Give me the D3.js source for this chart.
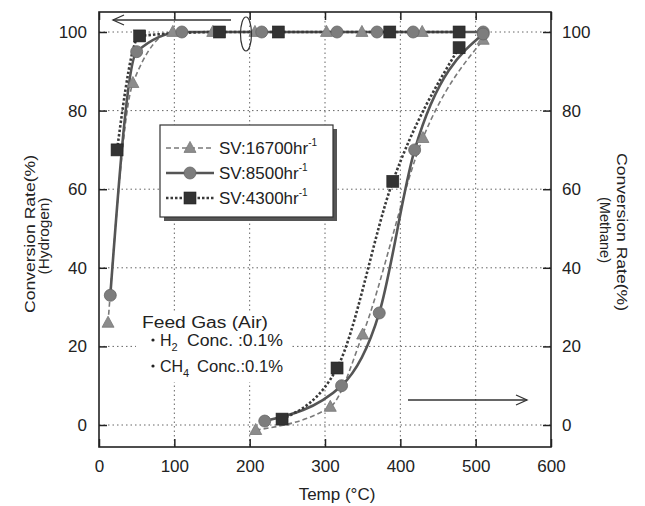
<!DOCTYPE html>
<html><head><meta charset="utf-8">
<script src="https://cdn.jsdelivr.net/npm/d3@7"></script>
<style>
html,body{margin:0;padding:0;background:#fff;}
svg{display:block;font-family:"Liberation Sans","Arial",sans-serif;}
</style></head>
<body>
<svg id="c" width="645" height="506"></svg>
<script>
// ---------- data ----------
const xTicks = [0,100,200,300,400,500,600];
const yTicks = [0,20,40,60,80,100];
const seriesNames = ["SV:16700hr", "SV:8500hr", "SV:4300hr"];
// Hydrogen (left axis)
const h2_16700_T = [12,45,98,151,207,302,349,429];
const h2_16700_V = [26,87,100,100,100,100,100,100];
const h2_8500_T  = [15,50,110,216,316,369,417,510];
const h2_8500_V  = [33,95,100,100,100,100,100,100];
const h2_4300_T  = [24,54,160,238,386,478];
const h2_4300_V  = [70,99,100,100,100,100];
// Methane (right axis)
const ch4_16700_T = [208,307,350,430,510];
const ch4_16700_V = [-1.3,4.6,23,73,98];
const ch4_8500_T  = [220,322,372,419,510];
const ch4_8500_V  = [1,10,28.5,70,99.5];
const ch4_4300_T  = [243,316,390,478];
const ch4_4300_V  = [1.5,14.5,62,96];

// ---------- layout ----------
const svg = d3.select("#c");
const L=99, R=551, T=12, B=447;
const x = d3.scaleLinear().domain([0,600]).range([L,R]);
const y = d3.scaleLinear().domain([0,100]).range([425,32]);

const styles = [
  {line:"#7a7a7a", w:1.6, dash:"5,3", marker:"tri", fill:"#8c8c8c"},
  {line:"#555",    w:2.6, dash:null,  marker:"circ", fill:"#7d7d7d"},
  {line:"#3a3a3a", w:2.6, dash:"2.5,2", marker:"sq", fill:"#333"}
];

// grid
const grid = svg.append("g").attr("stroke","#666").attr("stroke-width",1).attr("stroke-dasharray","1.5,3");
[100,200,300,400,500].forEach(v=>grid.append("line").attr("x1",x(v)).attr("x2",x(v)).attr("y1",T).attr("y2",B));
yTicks.forEach(v=>grid.append("line").attr("x1",L).attr("x2",R).attr("y1",y(v)).attr("y2",y(v)));

// axes
const fs = "17px";
const gB = svg.append("g").attr("transform",`translate(0,${B})`)
  .call(d3.axisBottom(x).tickValues(xTicks).tickSizeInner(-8).tickSizeOuter(0).tickPadding(13));
const gT = svg.append("g").attr("transform",`translate(0,${T})`)
  .call(d3.axisTop(x).tickValues(xTicks).tickSizeInner(-8).tickSizeOuter(0).tickFormat(""));
const gL = svg.append("g").attr("transform",`translate(${L},0)`)
  .call(d3.axisLeft(y).tickValues(yTicks).tickSizeInner(-8).tickSizeOuter(0).tickPadding(12));
const gR = svg.append("g").attr("transform",`translate(${R},0)`)
  .call(d3.axisRight(y).tickValues(yTicks).tickSizeInner(-8).tickSizeOuter(0).tickPadding(11));
[gB,gT,gL,gR].forEach(g=>{
  g.select(".domain").remove();
  g.selectAll("line").attr("stroke","#222").attr("stroke-width",1.5);
  g.selectAll("text").attr("font-size",fs).attr("fill","#222").attr("font-family",null);
});

// frame
svg.append("rect").attr("x",L).attr("y",T).attr("width",R-L).attr("height",B-T)
  .attr("fill","none").attr("stroke","#222").attr("stroke-width",1.6);

// lines
function drawSeries(T_, V_, s){
  const pts = T_.map((t,i)=>[t,V_[i]]);
  const ln = d3.line().x(d=>x(d[0])).y(d=>y(d[1])).curve(d3.curveMonotoneX);
  const p = svg.append("path").attr("d",ln(pts)).attr("fill","none")
    .attr("stroke",s.line).attr("stroke-width",s.w);
  if(s.dash) p.attr("stroke-dasharray",s.dash);
}
function drawMarker(g, cx, cy, s){
  if(s.marker==="tri"){
    const h=11, w=12;
    g.append("path").attr("d",`M${cx},${cy-h*0.6}L${cx+w/2},${cy+h*0.4}L${cx-w/2},${cy+h*0.4}Z`)
      .attr("fill",s.fill).attr("stroke","#777").attr("stroke-width",0.8);
  } else if(s.marker==="circ"){
    g.append("circle").attr("cx",cx).attr("cy",cy).attr("r",6)
      .attr("fill",s.fill).attr("stroke","#666").attr("stroke-width",0.8);
  } else {
    g.append("rect").attr("x",cx-6).attr("y",cy-6).attr("width",12).attr("height",12)
      .attr("fill",s.fill).attr("stroke","#222").attr("stroke-width",0.6);
  }
}
function drawMarkers(T_, V_, s){
  const g = svg.append("g");
  T_.forEach((t,i)=>drawMarker(g, x(t), y(V_[i]), s));
}
const all = [
  [h2_16700_T,h2_16700_V,0],[h2_8500_T,h2_8500_V,1],[h2_4300_T,h2_4300_V,2],
  [ch4_16700_T,ch4_16700_V,0],[ch4_8500_T,ch4_8500_V,1],[ch4_4300_T,ch4_4300_V,2]
];
all.forEach(a=>drawSeries(a[0],a[1],styles[a[2]]));
all.forEach(a=>drawMarkers(a[0],a[1],styles[a[2]]));

// legend
const lg = svg.append("g");
lg.append("rect").attr("x",164).attr("y",129).attr("width",173).attr("height",92).attr("fill","#555");
lg.append("rect").attr("x",160).attr("y",125).attr("width",173).attr("height",92)
  .attr("fill","#fff").attr("stroke","#333").attr("stroke-width",1.2);
const legY = [148,173,198];
seriesNames.forEach((n,i)=>{
  const s = styles[i];
  const l = lg.append("line").attr("x1",166).attr("x2",214).attr("y1",legY[i]).attr("y2",legY[i])
    .attr("stroke",s.line).attr("stroke-width",s.w);
  if(s.dash) l.attr("stroke-dasharray",s.dash);
  drawMarker(lg,190,legY[i],s);
  const t = lg.append("text").attr("x",219).attr("y",legY[i]+6).attr("font-size","17px").attr("fill","#222");
  t.append("tspan").text(n);
  t.append("tspan").attr("dy",-8).attr("font-size","10px").text("-1");
});

// annotation
svg.append("rect").attr("x",136).attr("y",312).attr("width",156).attr("height",70).attr("fill","#fff");
const an = svg.append("g").attr("font-size","16px").attr("fill","#222");
an.append("text").attr("x",142).attr("y",328).attr("textLength",126).attr("lengthAdjust","spacingAndGlyphs").text("Feed Gas (Air)");
// line 1
an.append("circle").attr("cx",153).attr("cy",340).attr("r",1.6).attr("fill","#222");
const h = an.append("text").attr("x",160).attr("y",346);
h.append("tspan").text("H");
h.append("tspan").attr("dy",5).attr("font-size","11px").text("2");
an.append("text").attr("x",187).attr("y",346).attr("textLength",96).attr("lengthAdjust","spacingAndGlyphs").text("Conc.  :0.1%");
// line 2
an.append("circle").attr("cx",153).attr("cy",366).attr("r",1.6).attr("fill","#222");
const c = an.append("text").attr("x",160).attr("y",372);
c.append("tspan").text("CH");
c.append("tspan").attr("dy",5).attr("font-size","11px").text("4");
an.append("text").attr("x",197).attr("y",372).attr("textLength",86).attr("lengthAdjust","spacingAndGlyphs").text("Conc.:0.1%");

// arrows
function arrow(x1,x2,yy){
  const g = svg.append("g").attr("stroke","#333").attr("stroke-width",1.3).attr("fill","none");
  g.append("line").attr("x1",x1).attr("x2",x2).attr("y1",yy).attr("y2",yy);
  const d = x2>x1 ? -1 : 1;
  g.append("path").attr("d",`M${x2+d*11},${yy-5}L${x2},${yy}L${x2+d*11},${yy+5}`);
}
arrow(231,113,20);
arrow(408,527,400);
svg.append("ellipse").attr("cx",246).attr("cy",34).attr("rx",5.5).attr("ry",17)
  .attr("fill","none").attr("stroke","#333").attr("stroke-width",1.2);

// axis titles
svg.append("text").attr("x",337).attr("y",500).attr("text-anchor","middle").attr("font-size","17px").attr("fill","#222").text("Temp (°C)");
svg.append("text").attr("transform","translate(35,234) rotate(-90)").attr("text-anchor","middle")
  .attr("font-size","15px").attr("fill","#222").attr("textLength",158).attr("lengthAdjust","spacingAndGlyphs").text("Conversion Rate(%)");
svg.append("text").attr("transform","translate(49,236) rotate(-90)").attr("text-anchor","middle")
  .attr("font-size","14px").attr("fill","#222").attr("textLength",77).attr("lengthAdjust","spacingAndGlyphs").text("(Hydrogen)");
svg.append("text").attr("transform","translate(617,232) rotate(90)").attr("text-anchor","middle")
  .attr("font-size","15px").attr("fill","#222").attr("textLength",158).attr("lengthAdjust","spacingAndGlyphs").text("Conversion Rate(%)");
svg.append("text").attr("transform","translate(600,230) rotate(90)").attr("text-anchor","middle")
  .attr("font-size","14px").attr("fill","#222").attr("textLength",66).attr("lengthAdjust","spacingAndGlyphs").text("(Methane)");
</script>
</body></html>
